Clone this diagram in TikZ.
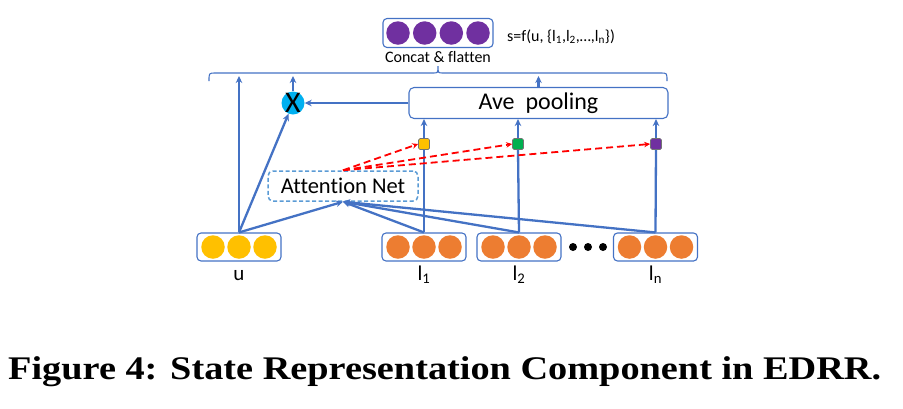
\documentclass[tikz,border=0pt]{standalone}
\usepackage{fontspec}
\setmainfont{Liberation Serif}
\newfontfamily\calibri[Ligatures=NoCommon]{Carlito}
\usepackage{graphicx}
\usepackage{xcolor}
\usetikzlibrary{arrows.meta,positioning}

\definecolor{lineblue}{HTML}{4472C4}
\definecolor{netblue}{HTML}{5B9BD5}
\definecolor{mulcyan}{HTML}{00B0F0}
\definecolor{useryellow}{HTML}{FFC000}
\definecolor{itemorange}{HTML}{ED7D31}
\definecolor{statepurple}{HTML}{7030A0}
\definecolor{gategreen}{HTML}{00B050}

\begin{document}
\begin{tikzpicture}[
              x=1pt, y=-1pt,
              vecbox/.style={draw=lineblue, line width=1.1pt, rounded corners=4pt, minimum width=84pt, minimum height=28pt, inner sep=0pt},
              dot/.style={circle, minimum size=23.5pt, inner sep=0pt},
              lbl/.style={font=\calibri\fontsize{21}{25}\selectfont, anchor=base, inner sep=0pt},
              gate/.style={draw=black!55, line width=0.7pt, rounded corners=1.5pt, minimum size=11pt, inner sep=0pt},
              flow/.style={draw=lineblue, line width=2.3pt, -{Stealth[length=7pt,width=6.5pt]}},
              link/.style={draw=lineblue, line width=2.3pt},
              attn/.style={draw=red, line width=1.8pt, dash pattern=on 7pt off 4pt, -{Stealth[length=6pt,width=5.5pt]}}
            ]
            \useasboundingbox (0,0) rectangle (903,408);

            % Nodes
            \node[vecbox] (u) at (239,247) {};
            \node[vecbox] (l1) at (424,247) {};
            \node[vecbox] (l2) at (519,247) {};
            \node[vecbox] (ln) at (655.5,247) {};
            \foreach \dx in {-26,0,26} {
              \node[dot, fill=useryellow] at ([xshift=\dx pt]u.center) {};
              \node[dot, fill=itemorange] at ([xshift=\dx pt]l1.center) {};
              \node[dot, fill=itemorange] at ([xshift=\dx pt]l2.center) {};
              \node[dot, fill=itemorange] at ([xshift=\dx pt]ln.center) {};
            }
            \foreach \x in {573,588,603}
              \fill (\x,247) circle (4pt);

            \node[lbl] (ulbl) at ([yshift=-33pt]u.center) {u};
            \node[lbl] (l1lbl) at ([yshift=-33pt]l1.center) {l\textsubscript{1}};
            \node[lbl] (l2lbl) at ([yshift=-33pt]l2.center) {l\textsubscript{2}};
            \node[lbl] (lnlbl) at ([yshift=-33pt]ln.center) {l\textsubscript{n}};

            \node[draw=netblue, line width=1.5pt, dash pattern=on 4pt off 2.5pt, rounded corners=5pt, minimum width=150pt, minimum height=30pt,
                  font=\calibri\fontsize{22.5}{27}\selectfont] (att) at (343,186) {Attention Net};

            \node[gate, fill=useryellow] (g1) at (424,144) {};
            \node[gate, fill=gategreen] (g2) at (518,144) {};
            \node[gate, fill=statepurple] (gn) at (656,144) {};

            \node[draw=lineblue, line width=1.1pt, rounded corners=5pt, minimum width=259pt, minimum height=31pt,
                  font=\calibri\fontsize{24}{28}\selectfont] (pool) at (538.5,103) {Ave\ \ pooling};

            \node[circle, fill=mulcyan, minimum size=23pt, inner sep=0pt] (mul) at (293,103) {};
            \node[font=\calibri\fontsize{30}{30}\selectfont, inner sep=0pt] at (mul.center) {X};

            \node[vecbox, minimum width=110pt, minimum height=29pt] (cat) at (438,33) {};
            \foreach \dx in {-40,-13.3,13.3,40}
              \node[dot, fill=statepurple] at ([xshift=\dx pt]cat.center) {};
            \node[font=\calibri\fontsize{16}{19}\selectfont, anchor=base, inner sep=0pt] (catlbl) at (438,62) {Concat \& flatten};
            \node[font=\calibri\fontsize{16}{19}\selectfont, anchor=base west, inner sep=0pt] (state) at (507,41)
              {s=f(u, \{l\textsubscript{1},l\textsubscript{2},\textellipsis,l\textsubscript{n}\})};

            \node[anchor=base west, inner sep=0pt] (caption) at (8,379)
              {\resizebox{873pt}{\height}{\fontsize{33}{38}\selectfont\bfseries Figure 4: State Representation Component in EDRR.}};

            % Brace
            \draw[lineblue, line width=1.1pt] (209,81) .. controls (209,73) .. (215,73) -- (433,73)
              .. controls (438,73) .. (438,66) .. controls (438,73) .. (443,73) -- (661,73)
              .. controls (667,73) .. (667,81);
            \coordinate (bu) at (239,76);
            \coordinate (bm) at (293,76);
            \coordinate (bp) at (538.5,76);

            % Edges
            \draw[flow] (u.north) -- (bu);
            \draw[flow] (mul.north) -- (bm);
            \draw[flow] (pool.north) -- (bp);
            \draw[flow] (pool.west) -- (mul.east);
            \draw[flow] (u.north) -- (mul);

            \draw[flow] (u.north) -- (att.south);
            \draw[flow] (l1.north) -- (att.south);
            \draw[flow] (l2.north) -- (att.south);
            \draw[flow] (ln.north) -- (att.south);

            \draw[link] (l1.north) -- (g1.south);
            \draw[link] (l2.north) -- (g2.south);
            \draw[link] (ln.north) -- (gn.south);
            \draw[flow] (g1.north) -- (g1 |- pool.south);
            \draw[flow] (g2.north) -- (g2 |- pool.south);
            \draw[flow] (gn.north) -- (gn |- pool.south);

            \draw[attn] (att.north) -- (g1.west);
            \draw[attn] (att.north) -- (g2.west);
            \draw[attn] (att.north) -- (gn.west);

            \end{tikzpicture}
\end{document}
